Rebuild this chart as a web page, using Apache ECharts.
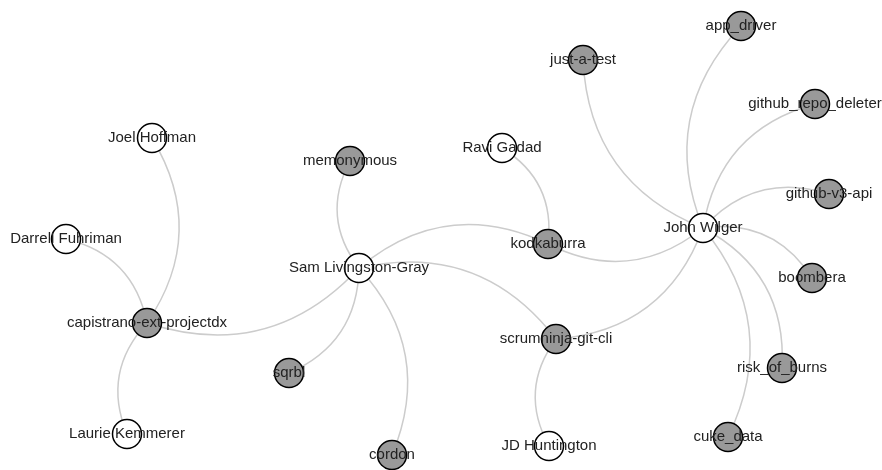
<!DOCTYPE html>
<html>
<head>
<meta charset="utf-8">
<script src="https://cdn.jsdelivr.net/npm/echarts@6/dist/echarts.min.js"></script>
<style>html,body{margin:0;padding:0;background:#fff}#c{width:882px;height:470px}</style>
</head>
<body>
<div id="c"></div>
<script>
const nodeNames = ["Joel Hoffman","Darrell Fuhriman","capistrano-ext-projectdx","Laurie Kemmerer","memonymous","Sam Livingston-Gray","sqrbl","cordon","Ravi Gadad","kodkaburra","scrumninja-git-cli","JD Huntington","just-a-test","John Wilger","app_driver","github_repo_deleter","github-v3-api","boombera","risk_of_burns","cuke_data"];
const nodeX = [152,66,147,127,350,359,289,392,502,548,556,549,583,703,741,815,829,812,782,728];
const nodeY = [138,239,323,434,161,268,373,455,148,244,339,446,60,228,26,104,194,278,368,437];
// 1 = project (grey), 0 = person (white)
const nodeIsProject = [0,0,1,0,1,0,1,1,0,1,1,0,1,0,1,1,1,1,1,1];
const linkSources = ["Sam Livingston-Gray","John Wilger","Sam Livingston-Gray","John Wilger","JD Huntington","Ravi Gadad","John Wilger","John Wilger","John Wilger","John Wilger","John Wilger","John Wilger","John Wilger","Sam Livingston-Gray","Sam Livingston-Gray","Sam Livingston-Gray","Sam Livingston-Gray","Joel Hoffman","Darrell Fuhriman","Laurie Kemmerer"];
const linkTargets = ["kodkaburra","kodkaburra","scrumninja-git-cli","scrumninja-git-cli","scrumninja-git-cli","kodkaburra","just-a-test","app_driver","github_repo_deleter","github-v3-api","boombera","risk_of_burns","cuke_data","memonymous","sqrbl","cordon","capistrano-ext-projectdx","capistrano-ext-projectdx","capistrano-ext-projectdx","capistrano-ext-projectdx"];

const chart = echarts.init(document.getElementById('c'));
const nodes = nodeNames.map((n, i) => ({
  name: n,
  value: [nodeX[i], nodeY[i]],
  itemStyle: { color: nodeIsProject[i] ? '#999999' : '#ffffff', borderColor: '#000', borderWidth: 1.5 }
}));
const links = linkSources.map((s, i) => ({ source: s, target: linkTargets[i] }));
chart.setOption({
  animation: false,
  grid: { left: 0, right: 0, top: 0, bottom: 0 },
  xAxis: { type: 'value', min: 0, max: 882, show: false },
  yAxis: { type: 'value', min: 0, max: 470, inverse: true, show: false },
  series: [{
    type: 'graph',
    coordinateSystem: 'cartesian2d',
    symbol: 'circle',
    symbolSize: 29,
    data: nodes,
    links: links,
    label: {
      show: true, position: 'inside', color: '#222', fontSize: 15,
      fontFamily: 'Liberation Sans, Arial, sans-serif'
    },
    lineStyle: { color: '#cccccc', width: 1.5, opacity: 1, curveness: 0.32 },
    emphasis: { disabled: true }
  }]
});
</script>
</body>
</html>
